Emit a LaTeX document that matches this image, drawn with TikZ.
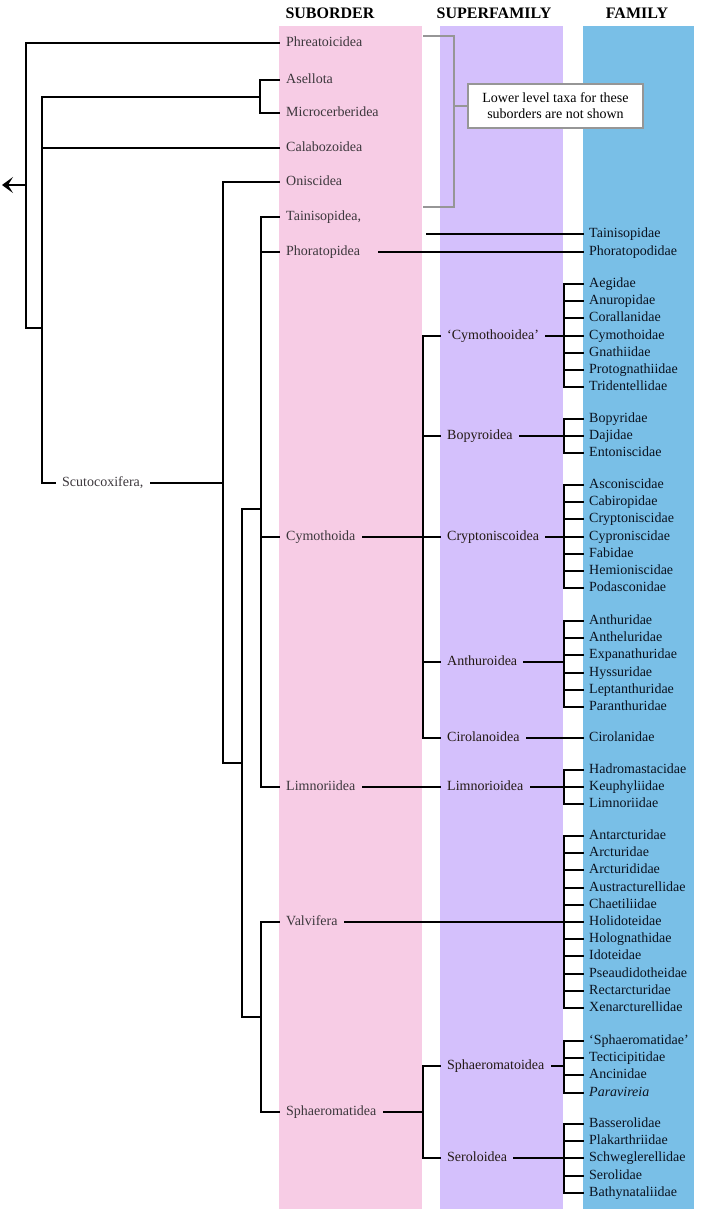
\documentclass[tikz,border=0pt]{standalone}
\usepackage{fontspec}
\setmainfont{Liberation Serif}
\usepackage{xcolor}
\usepackage{tikz}
\usetikzlibrary{arrows.meta,calc,positioning}

\definecolor{subpink}{RGB}{247,204,229}
\definecolor{suppurple}{RGB}{212,192,252}
\definecolor{famblue}{RGB}{121,191,231}
\definecolor{subtext}{RGB}{60,55,60}
\definecolor{suptext}{RGB}{35,25,20}
\definecolor{famtext}{RGB}{10,18,32}
\definecolor{notegray}{RGB}{150,150,150}

\tikzset{
    br/.style={line width=1.8pt, line cap=rect, black},
    lbl/.style={anchor=west, inner xsep=7pt, inner ysep=0pt, text height=9.5pt, text depth=3pt, font=\fontsize{14}{16}\selectfont},
    subname/.style={lbl, text=subtext},
    supname/.style={lbl, text=suptext},
    famname/.style={lbl, inner xsep=6pt, text=famtext},
    head/.style={font=\fontsize{16}{18}\selectfont\bfseries},
    gbr/.style={line width=1.6pt, notegray},
}

\begin{document}
\begin{tikzpicture}[x=1pt,y=-1pt]
    \useasboundingbox (0,0) rectangle (726,1231);

    % Rank columns
    \fill[subpink] (279,26) rectangle (422,1209);
    \fill[suppurple] (440,26) rectangle (563,1209);
    \fill[famblue] (583,26) rectangle (694,1209);
    \node[head] at (330,13) {SUBORDER};
    \node[head] at (494,13) {SUPERFAMILY};
    \node[head] at (637,13) {FAMILY};

    % Suborders
    \node[subname] (phr) at (279,43) {Phreatoicidea};
    \node[subname] (ase) at (279,80) {Asellota};
    \node[subname] (mic) at (279,113) {Microcerberidea};
    \node[subname] (cal) at (279,148) {Calabozoidea};
    \node[subname] (oni) at (279,182) {Oniscidea};
    \node[subname] (tai) at (279,217) {Tainisopidea,};
    \node[subname] (pho) at (279,252) {Phoratopidea};
    \node[subname] (cym) at (279,537) {Cymothoida};
    \node[subname] (lim) at (279,787) {Limnoriidea};
    \node[subname] (val) at (279,922) {Valvifera};
    \node[subname] (sph) at (279,1112) {Sphaeromatidea};
    \node[subname] (scu) at (55,483) {Scutocoxifera,};

    % Branch points
    \coordinate (root) at (26,185);
    \coordinate (tip) at (2,185);
    \coordinate (k2) at (42,328);
    \coordinate (asm) at (260,97);
    \coordinate (k3) at (223,763);
    \coordinate (k4) at (242,763);
    \coordinate (k5) at (261,509);
    \coordinate (k6) at (261,1017);

    % Tree of suborders
    \draw[br] (phr.west) -| (root) |- (k2);
    \draw[br,-{Stealth[length=11pt,width=16pt,inset=5pt]}] (root) -- (tip);
    \draw[br] (ase.west) -| (asm) |- (mic.west);
    \draw[br] (asm) -| (k2) |- (scu.west);
    \draw[br] (cal.west) -- (cal.west -| k2);
    \draw[br] (oni.west) -| (k3) -- (k4);
    \draw[br] (scu.east) -- (scu.east -| k3);
    \draw[br] (k5) -| (k4) |- (k6);
    \draw[br] (tai.west) -| (k5) |- (lim.west);
    \draw[br] (pho.west) -- (pho.west -| k5);
    \draw[br] (cym.west) -- (cym.west -| k5);
    \draw[br] (val.west) -| (k6) |- (sph.west);

    % Note on the first suborders
    \node[draw=notegray, line width=1.5pt, fill=white, align=center, minimum width=175pt, minimum height=44pt, inner sep=2pt, font=\fontsize{14}{16}\selectfont] (note) at (555.5,106) {Lower level taxa for these\\suborders are not shown};
    \coordinate (bt) at (423,36);
    \coordinate (bb) at (423,207);
    \coordinate (bk) at (454,106);
    \draw[gbr] (bt) -| (bk) |- (bb);
    \draw[gbr] (bk) -- (note.west);

    % Superfamilies
    \node[supname] (cmo) at (440,336) {‘Cymothooidea’};
    \node[supname] (bop) at (440,436) {Bopyroidea};
    \node[supname] (cry) at (440,537) {Cryptoniscoidea};
    \node[supname] (ant) at (440,662) {Anthuroidea};
    \node[supname] (cir) at (440,738) {Cirolanoidea};
    \node[supname] (lmo) at (440,787) {Limnorioidea};
    \node[supname] (sfo) at (440,1066) {Sphaeromatoidea};
    \node[supname] (ser) at (440,1158) {Seroloidea};
    \coordinate (s1) at (423,537);
    \coordinate (s2) at (423,1112);
    \draw[br] (cmo.west) -| (s1) |- (cir.west);
    \draw[br] (cym.east) -- (cry.west);
    \draw[br] (bop.west) -- (bop.west -| s1);
    \draw[br] (ant.west) -- (ant.west -| s1);
    \draw[br] (lim.east) -- (lmo.west);
    \draw[br] (sph.east) -- (s2);
    \draw[br] (sfo.west) -| (s2) |- (ser.west);

    % Families
    \coordinate (fv) at (564,0);
    \coordinate (tt) at (427,234);
    \node[famname] (taf) at (583,234) {Tainisopidae};
    \node[famname] (phf) at (583,252) {Phoratopodidae};
    \node[famname] (cirf) at (583,738) {Cirolanidae};
    \draw[br] (tt) -- (taf.west);
    \draw[br,shorten <=12pt] (pho.east) -- (phf.west);
    \draw[br] (cir.east) -- (cirf.west);

    \foreach \t [count=\i] in {Aegidae,Anuropidae,Corallanidae,Cymothoidae,Gnathiidae,Protognathiidae,Tridentellidae}
        {\node[famname] (fa\i) at (583,{round(284+17.2*(\i-1))}) {\t};
         \draw[br] (fa\i.west) -- (fa\i.west -| fv);}
    \draw[br] (fa1.west -| fv) -- (fa7.west -| fv);
    \draw[br] (cmo.east) -- (cmo.east -| fv);

    \foreach \t [count=\i] in {Bopyridae,Dajidae,Entoniscidae}
        {\node[famname] (fb\i) at (583,{round(419+17.2*(\i-1))}) {\t};
         \draw[br] (fb\i.west) -- (fb\i.west -| fv);}
    \draw[br] (fb1.west -| fv) -- (fb3.west -| fv);
    \draw[br] (bop.east) -- (bop.east -| fv);

    \foreach \t [count=\i] in {Asconiscidae,Cabiropidae,Cryptoniscidae,Cyproniscidae,Fabidae,Hemioniscidae,Podasconidae}
        {\node[famname] (fc\i) at (583,{round(485+17.2*(\i-1))}) {\t};
         \draw[br] (fc\i.west) -- (fc\i.west -| fv);}
    \draw[br] (fc1.west -| fv) -- (fc7.west -| fv);
    \draw[br] (cry.east) -- (cry.east -| fv);

    \foreach \t [count=\i] in {Anthuridae,Antheluridae,Expanathuridae,Hyssuridae,Leptanthuridae,Paranthuridae}
        {\node[famname] (fd\i) at (583,{round(621+17.2*(\i-1))}) {\t};
         \draw[br] (fd\i.west) -- (fd\i.west -| fv);}
    \draw[br] (fd1.west -| fv) -- (fd6.west -| fv);
    \draw[br] (ant.east) -- (ant.east -| fv);

    \foreach \t [count=\i] in {Hadromastacidae,Keuphyliidae,Limnoriidae}
        {\node[famname] (fe\i) at (583,{round(770+17.2*(\i-1))}) {\t};
         \draw[br] (fe\i.west) -- (fe\i.west -| fv);}
    \draw[br] (fe1.west -| fv) -- (fe3.west -| fv);
    \draw[br] (lmo.east) -- (lmo.east -| fv);

    \foreach \t [count=\i] in {Antarcturidae,Arcturidae,Arcturididae,Austracturellidae,Chaetiliidae,Holidoteidae,Holognathidae,Idoteidae,Pseaudidotheidae,Rectarcturidae,Xenarcturellidae}
        {\node[famname] (ff\i) at (583,{round(836+17.2*(\i-1))}) {\t};
         \draw[br] (ff\i.west) -- (ff\i.west -| fv);}
    \draw[br] (ff1.west -| fv) -- (ff11.west -| fv);
    \draw[br] (val.east) -- (val.east -| fv);

    \foreach \t [count=\i] in {‘Sphaeromatidae’,Tecticipitidae,Ancinidae,\textit{Paravireia}}
        {\node[famname] (fg\i) at (583,{round(1041+17.2*(\i-1))}) {\t};
         \draw[br] (fg\i.west) -- (fg\i.west -| fv);}
    \draw[br] (fg1.west -| fv) -- (fg4.west -| fv);
    \draw[br] (sfo.east) -- (sfo.east -| fv);

    \foreach \t [count=\i] in {Basserolidae,Plakarthriidae,Schweglerellidae,Serolidae,Bathynataliidae}
        {\node[famname] (fh\i) at (583,{round(1124+17.2*(\i-1))}) {\t};
         \draw[br] (fh\i.west) -- (fh\i.west -| fv);}
    \draw[br] (fh1.west -| fv) -- (fh5.west -| fv);
    \draw[br] (ser.east) -- (ser.east -| fv);
\end{tikzpicture}
\end{document}
